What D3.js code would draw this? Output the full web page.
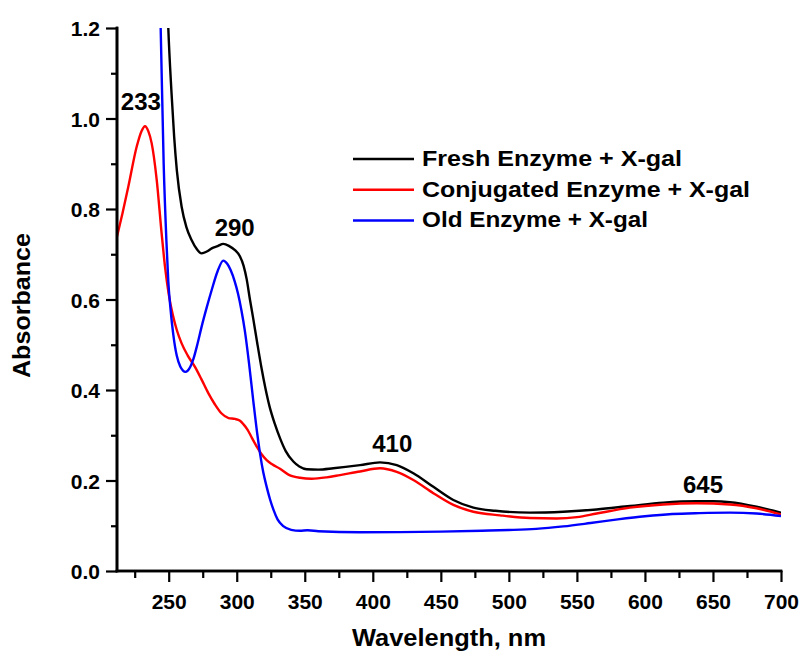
<!DOCTYPE html>
<html>
<head>
<meta charset="utf-8">
<script src="https://cdn.jsdelivr.net/npm/d3@7/dist/d3.min.js"></script>
<style>
  html, body { margin: 0; padding: 0; background: #fff; }
  svg text { font-family: "Liberation Sans", Arial, Helvetica, sans-serif; font-weight: bold; fill: #000; }
</style>
</head>
<body>
<svg id="chart" width="799" height="655"></svg>
<script>
// UV-Vis absorbance spectra: [wavelength (nm), absorbance]
const freshEnzyme = [
  [246, 1.6], [249.7, 1.2], [252, 1.06], [254, 0.96], [256, 0.885], [259.5, 0.805], [263, 0.76],
  [266.9, 0.731], [270.5, 0.712], [274.2, 0.702], [278, 0.706], [281.6, 0.713], [286, 0.718],
  [290.1, 0.723], [294.5, 0.718], [298.7, 0.709], [302.4, 0.695], [305, 0.675], [307.3, 0.645],
  [309.7, 0.6], [312, 0.56], [315, 0.505], [318, 0.452], [321, 0.405], [324, 0.365], [328, 0.325],
  [332, 0.292], [336, 0.265], [341.6, 0.242], [346, 0.231], [351.4, 0.225], [360, 0.224],
  [371, 0.227], [380, 0.23], [390.6, 0.234], [405.3, 0.24], [417.6, 0.234], [429.8, 0.216],
  [444.5, 0.186], [459.2, 0.157], [473.9, 0.14], [490, 0.133], [515.5, 0.129], [540, 0.131],
  [564.5, 0.136], [589, 0.1436], [613.5, 0.151], [638, 0.154], [650, 0.154], [662.5, 0.152],
  [682, 0.142], [700, 0.129]
];
const conjugatedEnzyme = [
  [212, 0.739], [216, 0.79], [220.3, 0.849], [226.5, 0.938], [230, 0.972], [232.6, 0.983],
  [235, 0.972], [237.5, 0.945], [241.2, 0.864], [244.8, 0.746], [247.3, 0.672], [250, 0.612],
  [253, 0.566], [256, 0.532], [259.5, 0.503], [264, 0.476], [269.3, 0.451], [274, 0.424],
  [279.1, 0.393], [284, 0.368], [288.9, 0.348], [294, 0.338], [298.7, 0.336], [302.4, 0.332],
  [305, 0.324], [308, 0.312], [311, 0.295], [314.7, 0.275], [318, 0.259], [322, 0.245],
  [326, 0.236], [331.8, 0.226], [338, 0.213], [346.5, 0.206], [355, 0.204], [366.1, 0.207],
  [375.9, 0.212], [390.6, 0.22], [405.3, 0.227], [417.6, 0.219], [429.8, 0.201], [444.5, 0.172],
  [459.2, 0.146], [473.9, 0.131], [493.5, 0.123], [515.5, 0.117], [535, 0.116], [550, 0.119],
  [564.5, 0.127], [589, 0.14], [613.5, 0.147], [638, 0.1496], [662.5, 0.147], [682, 0.1386],
  [700, 0.125]
];
const oldEnzyme = [
  [240, 1.6], [244.1, 1.2], [246.3, 0.9], [248.3, 0.73], [249.7, 0.64], [251.3, 0.58],
  [253.4, 0.522], [255.9, 0.476], [258.5, 0.452], [260.5, 0.443], [262.3, 0.44], [264, 0.443],
  [266, 0.452], [268.1, 0.468], [271, 0.5], [274.2, 0.54], [278, 0.583], [281.6, 0.621],
  [286, 0.663], [290.1, 0.686], [293, 0.679], [295.5, 0.665], [298.5, 0.64], [301, 0.612],
  [303.5, 0.575], [306, 0.53], [309, 0.46], [312.2, 0.375], [315, 0.305], [317.1, 0.26],
  [319.5, 0.218], [322, 0.186], [324.5, 0.158], [326.9, 0.136], [330, 0.114], [334.2, 0.099],
  [340, 0.091], [346.5, 0.089], [352, 0.09], [360, 0.088], [390.6, 0.0855], [420, 0.086],
  [450, 0.087], [480, 0.089], [500, 0.0905], [520, 0.093], [540, 0.0985], [560, 0.106],
  [580, 0.114], [600, 0.121], [620, 0.126], [640, 0.128], [662.5, 0.129], [682, 0.127],
  [700, 0.1215]
];

const seriesNames = ["Fresh Enzyme + X-gal", "Conjugated Enzyme + X-gal", "Old Enzyme + X-gal"];
const seriesColors = ["#000000", "#ff0000", "#0000ff"];

// Peak annotations: [label, x position (nm), label baseline (absorbance)]
const peakLabels = [
  ["233", 229.5, 1.018],
  ["290", 298.5, 0.74],
  ["410", 414.3, 0.262],
  ["645", 642.7, 0.173]
];

const xTicks = [250, 300, 350, 400, 450, 500, 550, 600, 650, 700];
const xMinorTicks = [225, 275, 325, 375, 425, 475, 525, 575, 625, 675];
const yTicks = [0.0, 0.2, 0.4, 0.6, 0.8, 1.0, 1.2];
const yMinorTicks = [0.1, 0.3, 0.5, 0.7, 0.9, 1.1];

const margin = { left: 117, right: 18, top: 28, bottom: 84 };
const W = 799, H = 655;
const svg = d3.select("#chart");

const x = d3.scaleLinear().domain([212, 700]).range([margin.left, W - margin.right]);
const y = d3.scaleLinear().domain([0, 1.2]).range([H - margin.bottom, margin.top]);

svg.append("defs").append("clipPath").attr("id", "plotClip")
  .append("rect")
  .attr("x", x.range()[0]).attr("y", y.range()[1])
  .attr("width", x.range()[1] - x.range()[0])
  .attr("height", y.range()[0] - y.range()[1]);

// Spectra
const line = d3.line().x(d => x(d[0])).y(d => y(d[1])).curve(d3.curveMonotoneX);
const plot = svg.append("g").attr("clip-path", "url(#plotClip)");
[freshEnzyme, conjugatedEnzyme, oldEnzyme].forEach((s, i) => {
  plot.append("path")
    .datum(s)
    .attr("d", line)
    .attr("fill", "none")
    .attr("stroke", seriesColors[i])
    .attr("stroke-width", 2.4)
    .attr("stroke-linejoin", "round");
});

// Axes
const axisStroke = 2.6;
const xAxis = svg.append("g").attr("transform", `translate(0,${y(0)})`);
xAxis.call(d3.axisBottom(x).tickValues(xMinorTicks).tickSize(7).tickFormat(""));
xAxis.call(g => g.append("g").call(d3.axisBottom(x).tickValues(xTicks).tickSize(11).tickFormat(d3.format("d"))));
xAxis.selectAll(".domain").attr("stroke-width", axisStroke).attr("d", `M${x(212)},0H${x(700)}`);
xAxis.selectAll(".tick line").attr("stroke-width", 2.2);
xAxis.selectAll(".tick text").attr("font-size", 21).attr("dy", "1.12em");

const yAxis = svg.append("g").attr("transform", `translate(${x(212)},0)`);
yAxis.call(d3.axisLeft(y).tickValues(yMinorTicks).tickSize(6).tickFormat(""));
yAxis.call(g => g.append("g").call(d3.axisLeft(y).tickValues(yTicks).tickSize(11).tickFormat(d3.format(".1f"))));
yAxis.selectAll(".domain").attr("stroke-width", axisStroke).attr("d", `M0,${y(0)}V${y(1.2)}`);
yAxis.selectAll(".tick line").attr("stroke-width", 2.2);
yAxis.selectAll(".tick text").attr("font-size", 21).attr("x", -17).attr("dy", "0.36em");
svg.selectAll(".domain").attr("stroke-linecap", "square");

// Axis titles
svg.append("text")
  .attr("x", (x.range()[0] + x.range()[1]) / 2).attr("y", 646)
  .attr("text-anchor", "middle").attr("font-size", 23)
  .attr("textLength", 194).attr("lengthAdjust", "spacingAndGlyphs")
  .text("Wavelength, nm");
svg.append("text")
  .attr("transform", `translate(30,${(y.range()[0] + y.range()[1]) / 2 + 6}) rotate(-90)`)
  .attr("text-anchor", "middle").attr("font-size", 23)
  .attr("textLength", 145).attr("lengthAdjust", "spacingAndGlyphs")
  .text("Absorbance");

// Peak labels
svg.selectAll(".peak").data(peakLabels).enter().append("text")
  .attr("class", "peak")
  .attr("x", d => x(d[1])).attr("y", d => y(d[2]))
  .attr("text-anchor", "middle").attr("font-size", 24)
  .text(d => d[0]);

// Legend
const legend = svg.append("g").attr("transform", "translate(353,159)");
const legendWidths = [260, 328, 226];
seriesNames.forEach((name, i) => {
  const row = legend.append("g").attr("transform", `translate(0,${i * 30.7})`);
  row.append("line").attr("x1", 0).attr("x2", 61).attr("y1", 0).attr("y2", 0)
    .attr("stroke", seriesColors[i]).attr("stroke-width", 2.5);
  row.append("text").attr("x", 69).attr("y", 7).attr("font-size", 22)
    .attr("textLength", legendWidths[i]).attr("lengthAdjust", "spacingAndGlyphs")
    .text(name);
});
</script>
</body>
</html>
